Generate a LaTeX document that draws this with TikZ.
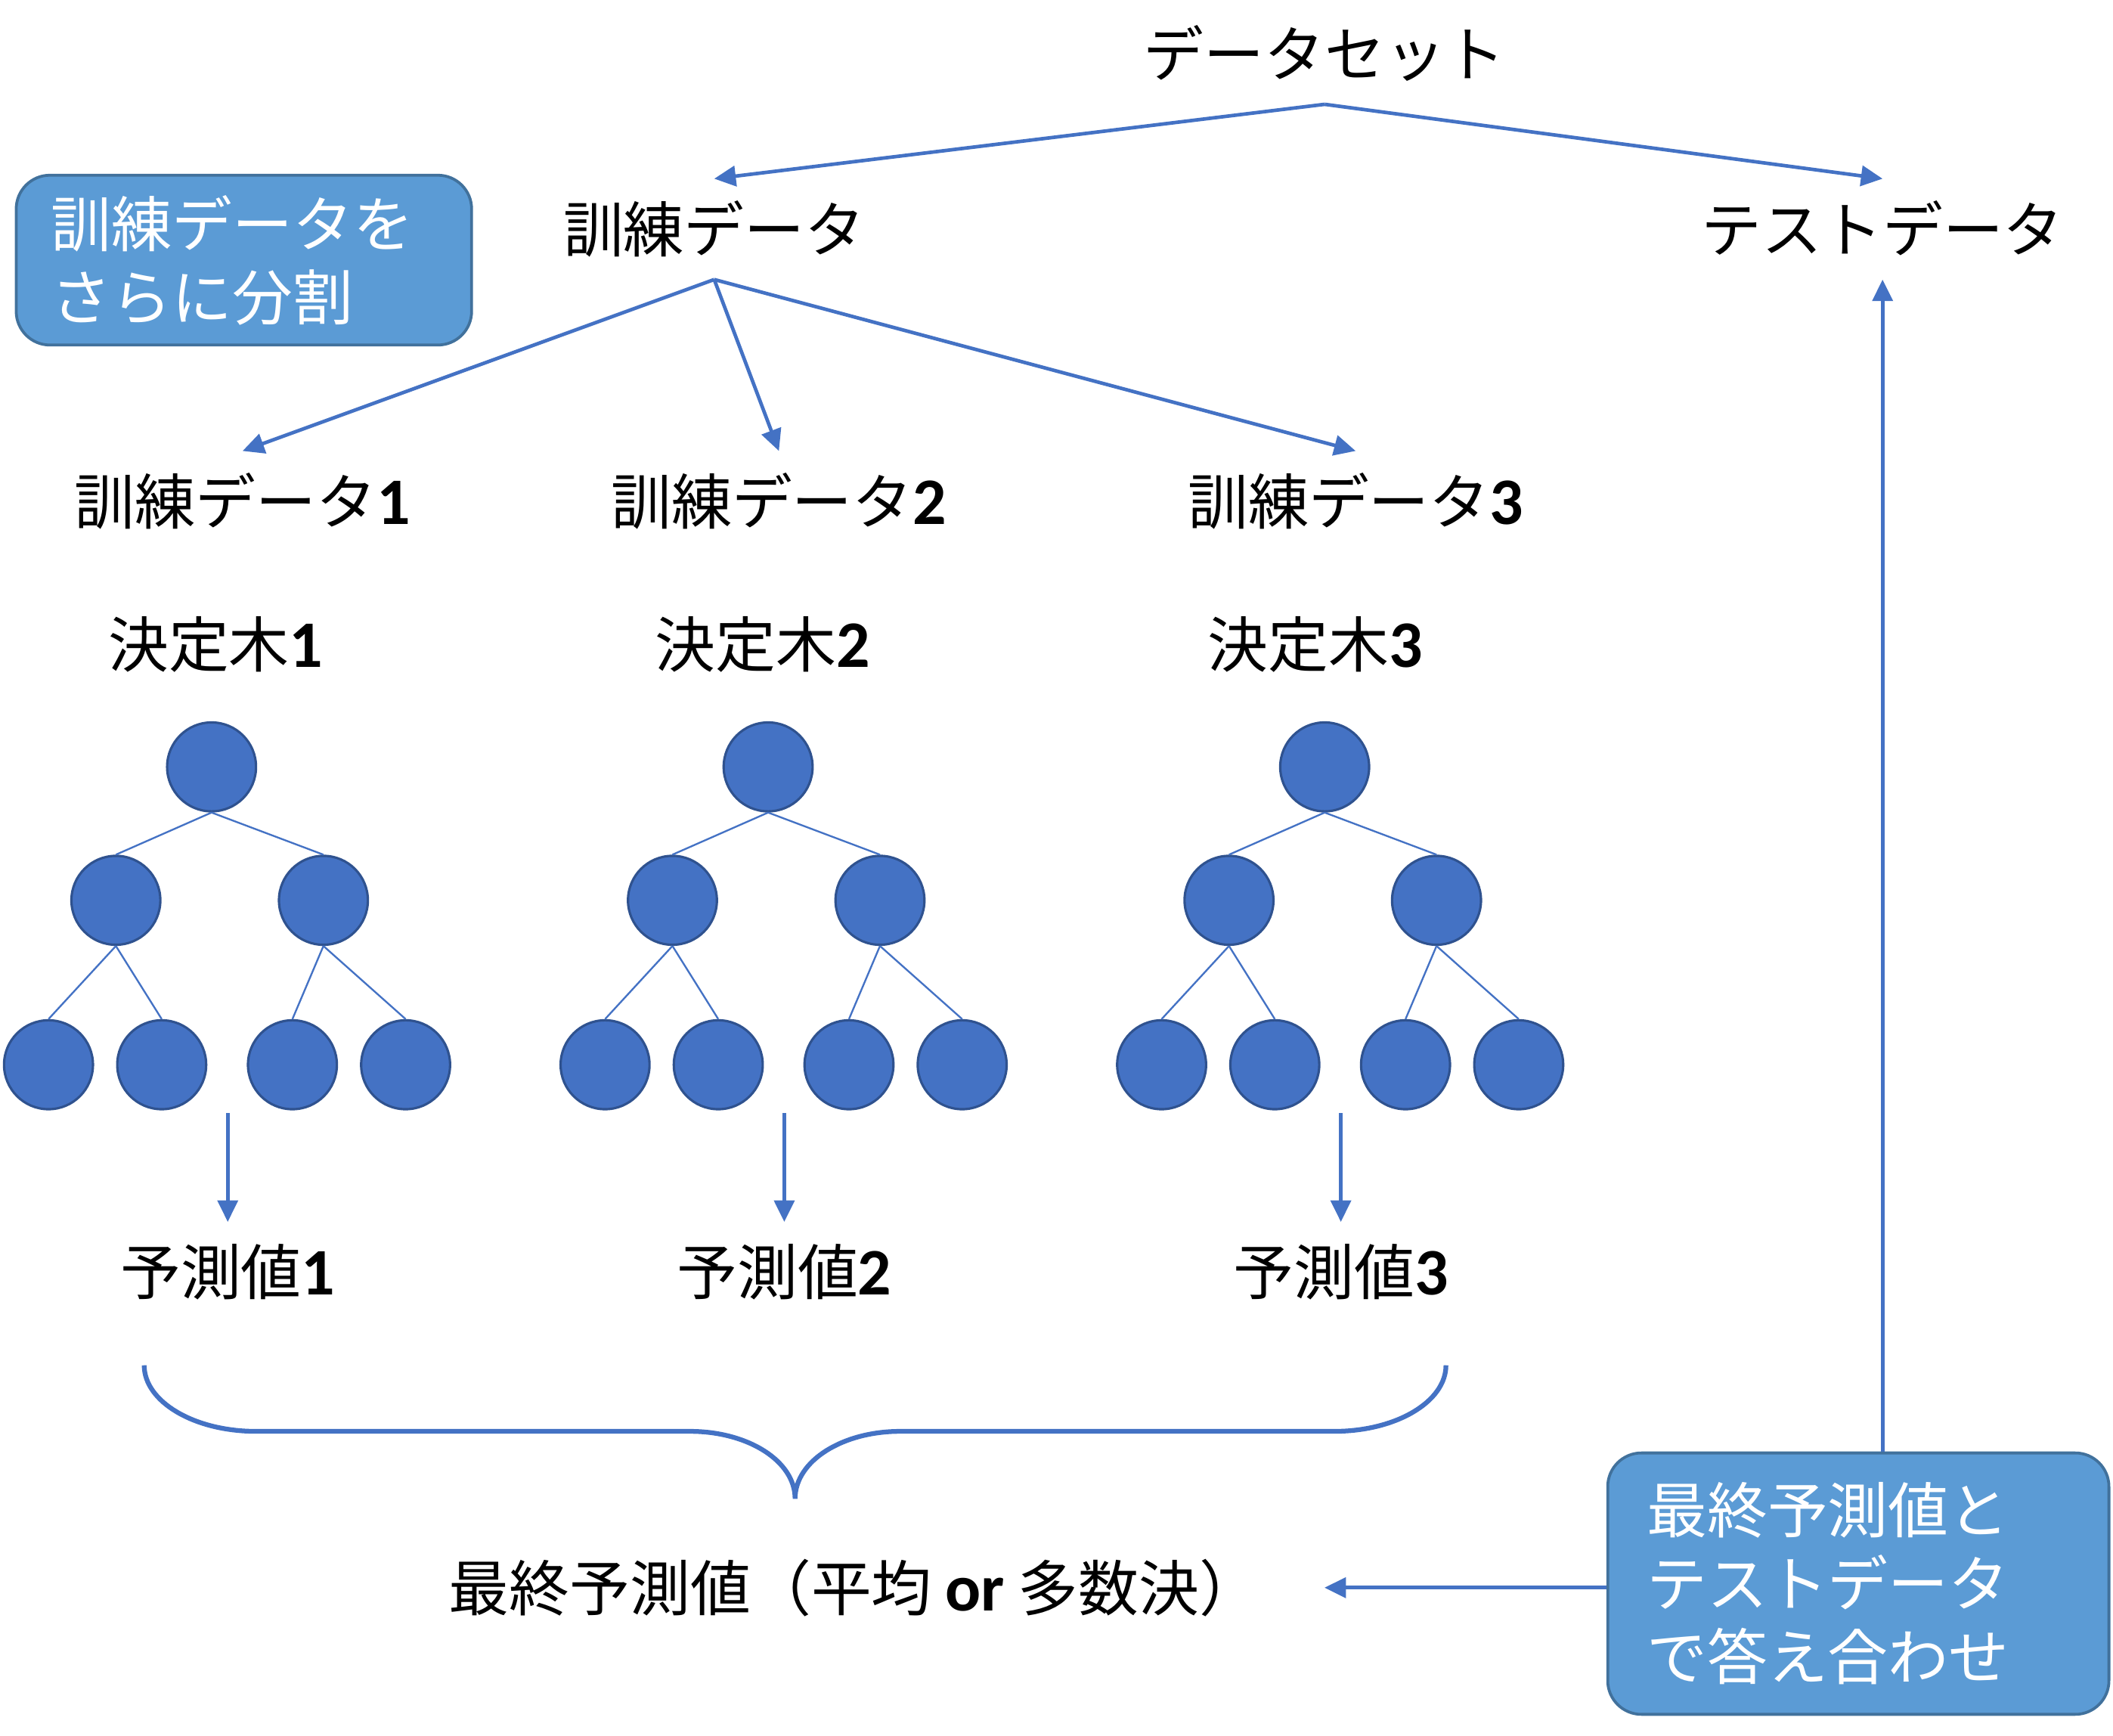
\documentclass[tikz,border=0pt]{standalone}
\usepackage{fontspec}
\setmainfont{Noto Sans CJK JP}
\newfontfamily\numfont{Carlito}[Scale=1.1]
\usepackage{tikz}
\usetikzlibrary{arrows.meta, positioning}
\definecolor{lineblue}{HTML}{4472C4}
\definecolor{leafedge}{HTML}{2F528F}
\definecolor{notefill}{HTML}{5B9BD5}
\definecolor{noteedge}{HTML}{41719C}
\newcommand{\dg}[1]{{\numfont\bfseries #1}}

\begin{document}
\begin{tikzpicture}[x=0.02cm, y=-0.02cm,
  every node/.style={font=\fontsize{25.5}{31}\selectfont},
  lbl/.style={inner sep=0pt, outer sep=0.3cm, text height=22.4pt, text depth=3.1pt},
  leaf/.style={circle, fill=lineblue, draw=leafedge, line width=1pt, minimum size=1.32cm, inner sep=0pt},
  edge/.style={draw=lineblue, line width=0.75pt},
  arr/.style={draw=lineblue, line width=1.5pt, -{Triangle[length=0.32cm, width=0.3cm]}},
  note/.style={rectangle, rounded corners=0.5cm, fill=notefill, draw=noteedge, line width=1.2pt, text=white, align=left}]
 \useasboundingbox (0,0) rectangle (1568,1288);
 \node[lbl] (DS) at (983, 40) {データセット};
 \node[lbl] (T) at (530, 170) {訓練データ};
 \node[lbl] (TT) at (1397, 170) {テストデータ};
 \node[note, minimum width=6.76cm, minimum height=2.52cm, text width=5.72cm, inner xsep=0.52cm] (B1) at (181, 193) {訓練データを\\さらに分割};
 \node[lbl] (S1) at (180, 372) {訓練データ\dg{1}};
 \node[lbl] (S2) at (578, 372) {訓練データ\dg{2}};
 \node[lbl] (S3) at (1006, 372) {訓練データ\dg{3}};
 \node[lbl] (K1) at (160, 478) {決定木\dg{1}};
 \node[lbl] (K2) at (566, 478) {決定木\dg{2}};
 \node[lbl] (K3) at (976, 478) {決定木\dg{3}};
 \draw[arr] (DS.south) -- (T.north);
 \draw[arr] (DS.south) -- (TT.north);
 \draw[arr] (T.south) -- (S1.north);
 \draw[arr] (T.south) -- (S2.north);
 \draw[arr] (T.south) -- (S3.north);
 % three trees
 \foreach \i/\dx in {1/0, 2/413, 3/826} {
  \node[leaf] (R\i) at ({157+\dx}, 569) {};
  \node[leaf] (L\i) at ({86+\dx}, 668) {};
  \node[leaf] (M\i) at ({240+\dx}, 668) {};
  \node[leaf] (LL\i) at ({36+\dx}, 790) {};
  \node[leaf] (LR\i) at ({120+\dx}, 790) {};
  \node[leaf] (ML\i) at ({217+\dx}, 790) {};
  \node[leaf] (MR\i) at ({301+\dx}, 790) {};
  \draw[edge] (R\i.south) -- (L\i.north);
  \draw[edge] (R\i.south) -- (M\i.north);
  \draw[edge] (L\i.south) -- (LL\i.north);
  \draw[edge] (L\i.south) -- (LR\i.north);
  \draw[edge] (M\i.south) -- (ML\i.north);
  \draw[edge] (M\i.south) -- (MR\i.north);
  \coordinate (O\i) at ({169+\dx}, 826);
  \node[lbl] (P\i) at ({169+\dx}, 944) {予測値\dg{\i}};
  \draw[arr] (O\i) -- (P\i.north);
 }
 % brace
 \draw[lineblue, line width=2pt] (107,1013) .. controls (107,1040) and (144,1062) .. (190,1062) -- (512,1062)
  .. controls (555,1062) and (590,1084) .. (590,1112) .. controls (590,1084) and (625,1062) .. (668,1062)
  -- (990,1062) .. controls (1036,1062) and (1073,1040) .. (1073,1013);
 \node[lbl] (F) at (634, 1178) {最終予測値（平均 \dg{or} 多数決）};
 \node[note, minimum width=7.44cm, minimum height=3.88cm, text width=6.28cm, inner xsep=0.58cm] (B2) at (1379, 1175) {最終予測値と\\テストデータ\\で答え合わせ};
 \draw[arr, shorten >=0.66cm] (B2.west |- F.east) -- (F.east);
 \draw[arr] (TT.south |- B2.north) -- (TT.south);
\end{tikzpicture}
\end{document}
